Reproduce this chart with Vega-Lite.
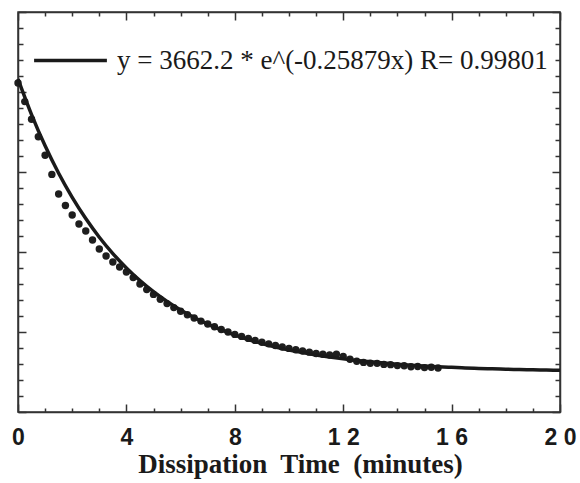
{
  "$schema": "https://vega.github.io/schema/vega-lite/v6.json",
  "width": 542,
  "height": 400,
  "autosize": "none",
  "padding": {"left": 18, "top": 12, "right": 20, "bottom": 71},
  "background": "white",
  "config": {"view": {"stroke": "#333333", "strokeWidth": 1.5}},
  "datasets": {
    "obs": [
      {"t": 0, "p": 3612}, {"t": 0.25, "p": 3380}, {"t": 0.5, "p": 3160}, {"t": 0.75, "p": 2940},
      {"t": 1, "p": 2710}, {"t": 1.25, "p": 2470}, {"t": 1.5, "p": 2225}, {"t": 1.75, "p": 2081},
      {"t": 2, "p": 1962}, {"t": 2.25, "p": 1850}, {"t": 2.5, "p": 1762}, {"t": 2.75, "p": 1650},
      {"t": 3, "p": 1537}, {"t": 3.25, "p": 1450}, {"t": 3.5, "p": 1375}, {"t": 3.75, "p": 1312},
      {"t": 4, "p": 1250}, {"t": 4.25, "p": 1180}, {"t": 4.5, "p": 1100}, {"t": 4.75, "p": 1030},
      {"t": 5, "p": 970}, {"t": 5.25, "p": 910}, {"t": 5.5, "p": 855}, {"t": 5.75, "p": 805},
      {"t": 6, "p": 760}, {"t": 6.25, "p": 715}, {"t": 6.5, "p": 675}, {"t": 6.75, "p": 636},
      {"t": 7, "p": 600}, {"t": 7.25, "p": 565}, {"t": 7.5, "p": 532}, {"t": 7.75, "p": 500},
      {"t": 8, "p": 470}, {"t": 8.25, "p": 445}, {"t": 8.5, "p": 420}, {"t": 8.75, "p": 395},
      {"t": 9, "p": 372}, {"t": 9.25, "p": 352}, {"t": 9.5, "p": 332}, {"t": 9.75, "p": 312},
      {"t": 10, "p": 295}, {"t": 10.25, "p": 278}, {"t": 10.5, "p": 262}, {"t": 10.75, "p": 248},
      {"t": 11, "p": 232}, {"t": 11.25, "p": 222}, {"t": 11.5, "p": 212}, {"t": 11.75, "p": 222},
      {"t": 12, "p": 195}, {"t": 12.25, "p": 160}, {"t": 12.5, "p": 135}, {"t": 12.75, "p": 120},
      {"t": 13, "p": 110}, {"t": 13.25, "p": 108}, {"t": 13.5, "p": 95}, {"t": 13.75, "p": 92},
      {"t": 14, "p": 80}, {"t": 14.25, "p": 78}, {"t": 14.5, "p": 66}, {"t": 14.75, "p": 68},
      {"t": 15, "p": 55}, {"t": 15.25, "p": 60}, {"t": 15.5, "p": 50}
    ],
    "fit": [
      {"t": 0, "v": 3662.2}, {"t": 0.5, "v": 3217.7}, {"t": 1, "v": 2827.2}, {"t": 1.5, "v": 2484.0},
      {"t": 2, "v": 2182.6}, {"t": 2.5, "v": 1917.7}, {"t": 3, "v": 1684.9}, {"t": 3.5, "v": 1480.4},
      {"t": 4, "v": 1300.7}, {"t": 4.5, "v": 1142.8}, {"t": 5, "v": 1004.1}, {"t": 5.5, "v": 882.2},
      {"t": 6, "v": 775.2}, {"t": 6.5, "v": 681.1}, {"t": 7, "v": 598.4}, {"t": 7.5, "v": 525.8},
      {"t": 8, "v": 462.0}, {"t": 8.5, "v": 405.9}, {"t": 9, "v": 356.7}, {"t": 9.5, "v": 313.4},
      {"t": 10, "v": 275.4}, {"t": 10.5, "v": 242.0}, {"t": 11, "v": 212.6}, {"t": 11.5, "v": 186.8},
      {"t": 12, "v": 164.1}, {"t": 12.5, "v": 144.2}, {"t": 13, "v": 126.7}, {"t": 13.5, "v": 111.3},
      {"t": 14, "v": 97.8}, {"t": 14.5, "v": 85.9}, {"t": 15, "v": 75.5}, {"t": 15.5, "v": 66.3},
      {"t": 16, "v": 58.3}, {"t": 16.5, "v": 51.2}, {"t": 17, "v": 45.0}, {"t": 17.5, "v": 39.5},
      {"t": 18, "v": 34.7}, {"t": 18.5, "v": 30.5}, {"t": 19, "v": 26.8}, {"t": 19.5, "v": 23.6},
      {"t": 20, "v": 20.7}
    ]
  },
  "layer": [
    {
      "data": {"name": "obs"},
      "mark": {"type": "point", "filled": true, "size": 55, "color": "#1e1e1e", "opacity": 1},
      "encoding": {
        "x": {
          "field": "t", "type": "quantitative",
          "scale": {"domain": [0, 20], "nice": false, "zero": false},
          "axis": {
            "orient": "bottom",
            "values": [0,1,2,3,4,5,6,7,8,9,10,11,12,13,14,15,16,17,18,19,20],
            "tickSize": {"condition": {"test": "datum.value % 4 === 0", "value": -8}, "value": -4},
            "tickColor": "#333333", "tickWidth": 1.5,
            "domainColor": "#333333", "domainWidth": 1.5,
            "grid": false,
            "labelExpr": "datum.value % 4 !== 0 ? '' : (datum.value >= 10 ? slice(datum.label, 0, 1) + ' ' + slice(datum.label, 1) : datum.label)",
            "labelFont": "Liberation Sans", "labelFontWeight": "bold", "labelFontSize": 23,
            "labelColor": "#1a1a1a", "labelPadding": 22, "labelFlush": false, "labelOverlap": false,
            "title": "Dissipation\u00a0 Time\u00a0 (minutes)",
            "titleFont": "Liberation Serif", "titleFontWeight": "bold", "titleFontSize": 27,
            "titleColor": "#1a1a1a", "titlePadding": -2, "titleX": 282, "titleAlign": "center"
          }
        },
        "y": {
          "field": "p", "type": "quantitative",
          "scale": {"domain": [-500, 4500], "nice": false, "zero": false},
          "axis": {
            "orient": "left",
            "values": [-500,-300,-100,100,300,500,700,900,1100,1300,1500,1700,1900,2100,2300,2500,2700,2900,3100,3300,3500,3700,3900,4100,4300,4500],
            "tickSize": {"condition": {"test": "(datum.value + 500) % 1000 === 0", "value": -8}, "value": -5},
            "tickColor": "#333333", "tickWidth": 1.5,
            "domainColor": "#333333", "domainWidth": 1.5,
            "grid": false, "labels": false, "title": null
          }
        }
      }
    },
    {
      "data": {"name": "fit"},
      "mark": {"type": "line", "interpolate": "monotone", "strokeWidth": 3.5},
      "encoding": {
        "x": {
          "field": "t", "type": "quantitative",
          "axis": {
            "orient": "top",
            "values": [0,1,2,3,4,5,6,7,8,9,10,11,12,13,14,15,16,17,18,19,20],
            "tickSize": {"condition": {"test": "datum.value % 4 === 0", "value": -8}, "value": -4},
            "tickColor": "#333333", "tickWidth": 1.5,
            "domainColor": "#333333", "domainWidth": 1.5,
            "grid": false, "labels": false, "title": null
          }
        },
        "y": {
          "field": "v", "type": "quantitative",
          "axis": {
            "orient": "right",
            "values": [-500,-300,-100,100,300,500,700,900,1100,1300,1500,1700,1900,2100,2300,2500,2700,2900,3100,3300,3500,3700,3900,4100,4300,4500],
            "tickSize": {"condition": {"test": "(datum.value + 500) % 1000 === 0", "value": -8}, "value": -5},
            "tickColor": "#333333", "tickWidth": 1.5,
            "domainColor": "#333333", "domainWidth": 1.5,
            "grid": false, "labels": false, "title": null
          }
        },
        "color": {
          "datum": "y = 3662.2 * e^(-0.25879x) R= 0.99801", "type": "nominal",
          "scale": {"range": ["#1a1a1a"]},
          "legend": {
            "orient": "none", "legendX": 14, "legendY": 10, "title": null,
            "symbolType": "stroke", "symbolSize": 5300, "symbolStrokeWidth": 3.5,
            "labelFont": "Liberation Serif", "labelFontSize": 27, "labelColor": "#1a1a1a",
            "labelLimit": 700, "labelOffset": 8, "padding": 0
          }
        }
      }
    }
  ],
  "resolve": {"axis": {"x": "independent", "y": "independent"}}
}
